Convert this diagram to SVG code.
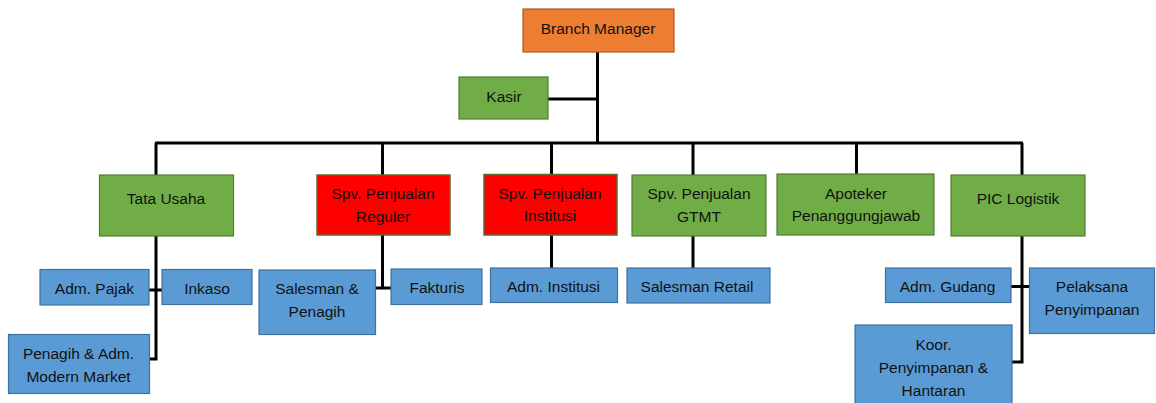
<svg xmlns="http://www.w3.org/2000/svg" width="1156" height="403" viewBox="0 0 1156 403">
<style>
.o{fill:#ED7D31;stroke:#AE5A21;stroke-width:1.2}
.g{fill:#70AD47;stroke:#507E32;stroke-width:1.2}
.r{fill:#FF0000;stroke:#5E6B2A;stroke-width:1.5}
.b{fill:#5B9BD5;stroke:#41719C;stroke-width:1.2}
text{font-family:"Liberation Sans",Arial,sans-serif;font-size:15.5px;fill:#111;text-anchor:middle}
.c{fill:none;stroke:#000;stroke-width:3}
</style>
<rect width="1156" height="403" fill="#fff"/>
<g id="connectors">
<path class="c" d="M597.5 52V143M548 99H597.5M155 143H1023M156 143V175M382.5 143V175M551.5 143V174M693 143V175M856.5 143V174M1022 143V175"/>
<path class="c" d="M156 236V359H149.5M149 290H162"/>
<path class="c" d="M382.5 235V288H375.5M375.5 288H391"/>
<path class="c" d="M551.5 235V268M693 236V268"/>
<path class="c" d="M1022 236V362H1012M1011 286.5H1030"/>
</g>
<g id="branch-manager"><rect class="o" x="523" y="9" width="151" height="43"/><text x="598" y="33.7">Branch Manager</text></g>
<g id="kasir"><rect class="g" x="459" y="77" width="89" height="42"/><text x="504" y="102.3">Kasir</text></g>
<g id="tata-usaha"><rect class="g" x="99.5" y="175" width="134" height="61"/><text x="166" y="204.3">Tata Usaha</text></g>
<g id="spv-reguler"><rect class="r" x="317" y="175" width="133" height="60"/><text x="383" y="199">Spv. Penjualan</text><text x="383" y="222">Reguler</text></g>
<g id="spv-institusi"><rect class="r" x="484" y="174.5" width="133" height="60.5"/><text x="550" y="199">Spv. Penjualan</text><text x="550" y="221">Institusi</text></g>
<g id="spv-gtmt"><rect class="g" x="632" y="175" width="134" height="61"/><text x="699" y="199">Spv. Penjualan</text><text x="699" y="221.5">GTMT</text></g>
<g id="apoteker"><rect class="g" x="777" y="174" width="157" height="61"/><text x="856" y="199">Apoteker</text><text x="856" y="221">Penanggungjawab</text></g>
<g id="pic-logistik"><rect class="g" x="951" y="175" width="134" height="61"/><text x="1018" y="204.3">PIC Logistik</text></g>
<g id="adm-pajak"><rect class="b" x="40" y="269.5" width="109" height="35.5"/><text x="94.5" y="294">Adm. Pajak</text></g>
<g id="inkaso"><rect class="b" x="162" y="269.5" width="90" height="35"/><text x="207" y="294">Inkaso</text></g>
<g id="penagih-adm"><rect class="b" x="8.5" y="334.5" width="141" height="59"/><text x="78.5" y="359">Penagih &amp; Adm.</text><text x="78.5" y="381.7">Modern Market</text></g>
<g id="salesman-penagih"><rect class="b" x="259" y="270" width="116.5" height="64.5"/><text x="317" y="294">Salesman &amp;</text><text x="317" y="316.7">Penagih</text></g>
<g id="fakturis"><rect class="b" x="391" y="269" width="91" height="35.5"/><text x="437" y="293.3">Fakturis</text></g>
<g id="adm-institusi"><rect class="b" x="490.5" y="268" width="127" height="34.5"/><text x="553.5" y="292">Adm. Institusi</text></g>
<g id="salesman-retail"><rect class="b" x="627" y="268" width="143" height="35"/><text x="697" y="292">Salesman Retail</text></g>
<g id="adm-gudang"><rect class="b" x="885.5" y="268" width="125.5" height="34.5"/><text x="947.5" y="292">Adm. Gudang</text></g>
<g id="pelaksana"><rect class="b" x="1029.5" y="268" width="125" height="65.5"/><text x="1092" y="292">Pelaksana</text><text x="1092" y="315">Penyimpanan</text></g>
<g id="koor"><rect class="b" x="855" y="325" width="157" height="82"/><text x="933.5" y="350.3">Koor.</text><text x="933.5" y="373.3">Penyimpanan &amp;</text><text x="933.5" y="395.7">Hantaran</text></g>
</svg>
